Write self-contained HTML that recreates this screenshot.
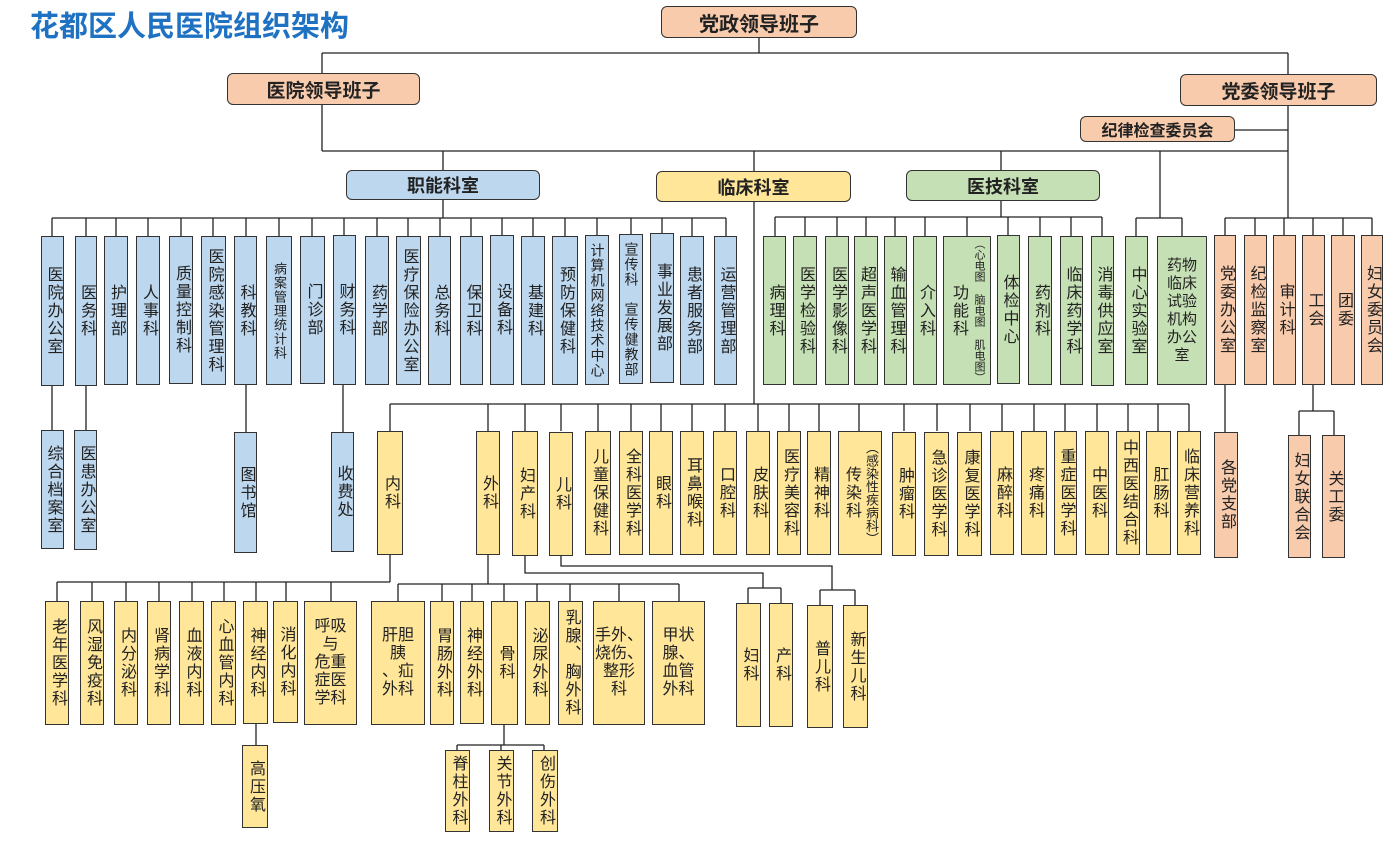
<!DOCTYPE html>
<html><head><meta charset="utf-8">
<style>
body{margin:0;width:1393px;height:852px;background:#fff;position:relative;overflow:hidden;font-family:"Liberation Sans","Noto Sans CJK SC",sans-serif;color:#222}
.t{position:absolute;left:30px;top:3px;font-size:29px;font-weight:bold;color:#1f72c2;letter-spacing:0px}
.h{position:absolute;box-sizing:border-box;border:1.5px solid #333;border-radius:6px;display:flex;align-items:center;justify-content:center;font-weight:bold;font-size:19px}
.b{position:absolute;box-sizing:border-box;border:1.5px solid #333;display:flex;align-items:center;justify-content:center;text-align:center;font-size:16px;line-height:18px}
.v{writing-mode:vertical-rl;text-orientation:upright;letter-spacing:2px;line-height:18px}
.s{font-size:13px;letter-spacing:1px;line-height:14px}
.bl{background:#bdd7ee}.gr{background:#c5e0b4}.ye{background:#ffe699}.or{background:#f8cbad}
svg{position:absolute;left:0;top:0}
</style></head><body>
<svg width="1393" height="852" fill="none" stroke="#222" stroke-width="1.3">
<path d="M759 38V53M322 53H1288M322 53V73M1288 53V74M322 105V151M322 151H1288M1288 106V218M1235 130H1288M443 151V170M754 151V171M1001 151V170M1160 151V218"/>
<path d="M443 200V218M52 218H726M52 218V236M86 218V236M116 218V236M148 218V236M181 218V236M213 218V236M246 218V236M279 218V236M312 218V236M344 218V236M377 218V236M408 218V236M440 218V236M471 218V236M502 218V236M533 218V236M565 218V236M597 218V236M631 218V236M662 218V236M692 218V236M726 218V236"/>
<path d="M1001 201V217M775 217H1102M775 217V236M805 217V236M837 217V236M866 217V236M895 217V236M925 217V236M967 217V236M1008 217V236M1040 217V236M1071 217V236M1102 217V236"/>
<path d="M1136 218H1182M1136 218V236M1182 218V236M1225 218H1372M1225 218V235M1255 218V235M1284 218V235M1313 218V235M1343 218V235M1372 218V235"/>
<path d="M52 385V430M86 385V430M246 385V432M343 385V432M1225 385V432M1313 385V411M1299 411H1334M1299 411V435M1334 411V435"/>
<path d="M754 202V404M390 404H1189M390 404V431M488 404V431M525 404V431M561 404V431M598 404V431M631 404V431M661 404V431M692 404V431M725 404V431M758 404V431M789 404V431M819 404V431M859 404V431M904 404V431M937 404V431M970 404V431M1002 404V431M1034 404V431M1065 404V431M1097 404V431M1128 404V431M1158 404V431M1189 404V431"/>
<path d="M390 555V582M57 582H390M57 582V601M92 582V601M126 582V601M159 582V601M192 582V601M224 582V601M256 582V601M286 582V601M331 582V601M256 724V745"/>
<path d="M488 555V584M398 584H679M398 584V601M442 584V601M472 584V601M504 584V601M537 584V601M570 584V601M619 584V601M679 584V601M504 725V745M457 745H544M457 745V750M501 745V750M544 745V750"/>
<path d="M525 555V573H763V588M748 588H781M748 588V603M781 588V603M561 555V566H832V590M820 590H855M820 590V605M855 590V605"/>
</svg>
<div class="t">花都区人民医院组织架构</div>
<div class="h or" style="left:661px;top:6px;width:196px;height:32px;font-size:20px">党政领导班子</div>
<div class="h or" style="left:227px;top:73px;width:193px;height:32px">医院领导班子</div>
<div class="h or" style="left:1180px;top:74px;width:197px;height:32px">党委领导班子</div>
<div class="h or" style="left:1080px;top:116px;width:155px;height:26px;font-size:16px">纪律检查委员会</div>
<div class="h bl" style="left:346px;top:170px;width:194px;height:30px;font-size:18px">职能科室</div>
<div class="h ye" style="left:656px;top:171px;width:195px;height:31px;font-size:18px">临床科室</div>
<div class="h gr" style="left:906px;top:170px;width:194px;height:31px;font-size:18px">医技科室</div>

<!-- 职能 -->
<div class="b bl" style="left:41px;top:236px;width:23px;height:150px"><span class="v">医院办公室</span></div>
<div class="b bl" style="left:75px;top:236px;width:22px;height:150px"><span class="v">医务科</span></div>
<div class="b bl" style="left:104px;top:236px;width:24px;height:149px"><span class="v">护理部</span></div>
<div class="b bl" style="left:136px;top:236px;width:24px;height:149px"><span class="v">人事科</span></div>
<div class="b bl" style="left:169px;top:236px;width:24px;height:148px"><span class="v">质量控制科</span></div>
<div class="b bl" style="left:201px;top:236px;width:25px;height:149px"><span class="v">医院感染管理科</span></div>
<div class="b bl" style="left:234px;top:236px;width:23px;height:149px"><span class="v">科教科</span></div>
<div class="b bl" style="left:266px;top:236px;width:26px;height:149px"><span class="v s">病案管理统计科</span></div>
<div class="b bl" style="left:300px;top:236px;width:25px;height:148px"><span class="v">门诊部</span></div>
<div class="b bl" style="left:333px;top:235px;width:23px;height:150px"><span class="v">财务科</span></div>
<div class="b bl" style="left:365px;top:236px;width:24px;height:149px"><span class="v">药学部</span></div>
<div class="b bl" style="left:396px;top:236px;width:25px;height:149px"><span class="v">医疗保险办公室</span></div>
<div class="b bl" style="left:428px;top:236px;width:23px;height:149px"><span class="v">总务科</span></div>
<div class="b bl" style="left:460px;top:236px;width:23px;height:149px"><span class="v">保卫科</span></div>
<div class="b bl" style="left:490px;top:235px;width:24px;height:150px"><span class="v">设备科</span></div>
<div class="b bl" style="left:521px;top:236px;width:24px;height:149px"><span class="v">基建科</span></div>
<div class="b bl" style="left:552px;top:236px;width:26px;height:149px"><span class="v">预防保健科</span></div>
<div class="b bl" style="left:585px;top:235px;width:24px;height:150px"><span class="v s" style="font-size:14px;line-height:15px">计算机网络技术中心</span></div>
<div class="b bl" style="left:619px;top:234px;width:24px;height:150px"><span class="v s" style="font-size:14px;line-height:15px">宣传科　宣传健教部</span></div>
<div class="b bl" style="left:650px;top:233px;width:24px;height:150px"><span class="v">事业发展部</span></div>
<div class="b bl" style="left:680px;top:236px;width:24px;height:149px"><span class="v">患者服务部</span></div>
<div class="b bl" style="left:714px;top:236px;width:23px;height:149px"><span class="v">运营管理部</span></div>

<!-- 医技 -->
<div class="b gr" style="left:763px;top:236px;width:23px;height:149px"><span class="v">病理科</span></div>
<div class="b gr" style="left:793px;top:236px;width:24px;height:149px"><span class="v">医学检验科</span></div>
<div class="b gr" style="left:825px;top:236px;width:24px;height:149px"><span class="v">医学影像科</span></div>
<div class="b gr" style="left:854px;top:236px;width:24px;height:149px"><span class="v">超声医学科</span></div>
<div class="b gr" style="left:884px;top:236px;width:23px;height:149px"><span class="v">输血管理科</span></div>
<div class="b gr" style="left:913px;top:236px;width:24px;height:149px"><span class="v">介入科</span></div>
<div class="b gr" style="left:943px;top:236px;width:48px;height:149px;gap:6px;flex-direction:row-reverse"><span class="v" style="font-size:11px;letter-spacing:0;line-height:12px;white-space:nowrap">（心电图 脑电图 肌电图）</span><span class="v">功能科</span></div>
<div class="b gr" style="left:997px;top:235px;width:23px;height:149px"><span class="v">体检中心</span></div>
<div class="b gr" style="left:1028px;top:236px;width:24px;height:149px"><span class="v">药剂科</span></div>
<div class="b gr" style="left:1060px;top:236px;width:23px;height:149px"><span class="v">临床药学科</span></div>
<div class="b gr" style="left:1091px;top:236px;width:23px;height:150px"><span class="v">消毒供应室</span></div>
<div class="b gr" style="left:1125px;top:236px;width:23px;height:149px"><span class="v">中心实验室</span></div>
<div class="b gr" style="left:1157px;top:236px;width:50px;height:149px;font-size:15px">药物<br>临床<br>试验<br>机构<br>办公<br>室</div>

<!-- 党委 -->
<div class="b or" style="left:1214px;top:235px;width:22px;height:150px"><span class="v">党委办公室</span></div>
<div class="b or" style="left:1244px;top:235px;width:23px;height:150px"><span class="v">纪检监察室</span></div>
<div class="b or" style="left:1273px;top:235px;width:23px;height:150px"><span class="v">审计科</span></div>
<div class="b or" style="left:1302px;top:235px;width:23px;height:150px"><span class="v">工会</span></div>
<div class="b or" style="left:1331px;top:235px;width:24px;height:150px"><span class="v">团委</span></div>
<div class="b or" style="left:1361px;top:235px;width:22px;height:150px"><span class="v">妇女委员会</span></div>
<div class="b or" style="left:1214px;top:432px;width:24px;height:126px"><span class="v">各党支部</span></div>
<div class="b or" style="left:1288px;top:435px;width:23px;height:123px"><span class="v">妇女联合会</span></div>
<div class="b or" style="left:1322px;top:435px;width:23px;height:123px"><span class="v">关工委</span></div>

<!-- 职能 sub -->
<div class="b bl" style="left:41px;top:430px;width:23px;height:119px"><span class="v">综合档案室</span></div>
<div class="b bl" style="left:74px;top:430px;width:23px;height:120px"><span class="v">医患办公室</span></div>
<div class="b bl" style="left:234px;top:432px;width:23px;height:121px"><span class="v">图书馆</span></div>
<div class="b bl" style="left:331px;top:432px;width:23px;height:120px"><span class="v">收费处</span></div>

<!-- 临床 -->
<div class="b ye" style="left:377px;top:431px;width:26px;height:124px"><span class="v">内科</span></div>
<div class="b ye" style="left:476px;top:431px;width:24px;height:124px"><span class="v">外科</span></div>
<div class="b ye" style="left:512px;top:431px;width:26px;height:125px"><span class="v">妇产科</span></div>
<div class="b ye" style="left:549px;top:432px;width:24px;height:124px"><span class="v">儿科</span></div>
<div class="b ye" style="left:585px;top:431px;width:26px;height:124px"><span class="v">儿童保健科</span></div>
<div class="b ye" style="left:619px;top:431px;width:24px;height:124px"><span class="v">全科医学科</span></div>
<div class="b ye" style="left:649px;top:431px;width:24px;height:124px"><span class="v">眼科</span></div>
<div class="b ye" style="left:680px;top:431px;width:24px;height:124px"><span class="v">耳鼻喉科</span></div>
<div class="b ye" style="left:713px;top:431px;width:24px;height:124px"><span class="v">口腔科</span></div>
<div class="b ye" style="left:746px;top:431px;width:24px;height:124px"><span class="v">皮肤科</span></div>
<div class="b ye" style="left:777px;top:431px;width:24px;height:124px"><span class="v">医疗美容科</span></div>
<div class="b ye" style="left:807px;top:431px;width:24px;height:124px"><span class="v">精神科</span></div>
<div class="b ye" style="left:838px;top:431px;width:44px;height:124px;gap:4px;flex-direction:row-reverse"><span class="v" style="font-size:13px;letter-spacing:0;line-height:14px;white-space:nowrap">（感染性疾病科）</span><span class="v">传染科</span></div>
<div class="b ye" style="left:892px;top:432px;width:24px;height:124px"><span class="v">肿瘤科</span></div>
<div class="b ye" style="left:924px;top:432px;width:25px;height:124px"><span class="v">急诊医学科</span></div>
<div class="b ye" style="left:957px;top:432px;width:25px;height:124px"><span class="v">康复医学科</span></div>
<div class="b ye" style="left:990px;top:431px;width:24px;height:124px"><span class="v">麻醉科</span></div>
<div class="b ye" style="left:1021px;top:431px;width:26px;height:124px"><span class="v">疼痛科</span></div>
<div class="b ye" style="left:1054px;top:431px;width:23px;height:124px"><span class="v">重症医学科</span></div>
<div class="b ye" style="left:1085px;top:431px;width:24px;height:124px"><span class="v">中医科</span></div>
<div class="b ye" style="left:1116px;top:431px;width:24px;height:124px"><span class="v">中西医结合科</span></div>
<div class="b ye" style="left:1146px;top:431px;width:25px;height:124px"><span class="v">肛肠科</span></div>
<div class="b ye" style="left:1177px;top:431px;width:24px;height:124px"><span class="v">临床营养科</span></div>

<!-- 内科 sub -->
<div class="b ye" style="left:45px;top:601px;width:24px;height:124px"><span class="v">老年医学科</span></div>
<div class="b ye" style="left:80px;top:601px;width:24px;height:124px"><span class="v">风湿免疫科</span></div>
<div class="b ye" style="left:114px;top:601px;width:24px;height:124px"><span class="v">内分泌科</span></div>
<div class="b ye" style="left:147px;top:601px;width:24px;height:124px"><span class="v">肾病学科</span></div>
<div class="b ye" style="left:179px;top:601px;width:25px;height:124px"><span class="v">血液内科</span></div>
<div class="b ye" style="left:211px;top:601px;width:25px;height:124px"><span class="v">心血管内科</span></div>
<div class="b ye" style="left:243px;top:601px;width:25px;height:123px"><span class="v">神经内科</span></div>
<div class="b ye" style="left:273px;top:601px;width:25px;height:122px"><span class="v">消化内科</span></div>
<div class="b ye" style="left:304px;top:601px;width:53px;height:124px">呼吸<br>与<br>危重<br>症医<br>学科</div>
<div class="b ye" style="left:242px;top:745px;width:26px;height:83px"><span class="v">高压氧</span></div>

<!-- 外科 sub -->
<div class="b ye" style="left:371px;top:601px;width:54px;height:124px">肝胆<br>胰<br>、疝<br>外科</div>
<div class="b ye" style="left:430px;top:601px;width:24px;height:124px"><span class="v">胃肠外科</span></div>
<div class="b ye" style="left:460px;top:601px;width:24px;height:123px"><span class="v">神经外科</span></div>
<div class="b ye" style="left:491px;top:601px;width:27px;height:124px"><span class="v">骨科</span></div>
<div class="b ye" style="left:525px;top:601px;width:25px;height:124px"><span class="v">泌尿外科</span></div>
<div class="b ye" style="left:558px;top:601px;width:25px;height:124px"><span class="v">乳腺、胸外科</span></div>
<div class="b ye" style="left:593px;top:601px;width:52px;height:124px">手外、<br>烧伤、<br>整形<br>科</div>
<div class="b ye" style="left:652px;top:601px;width:53px;height:124px">甲状<br>腺、<br>血管<br>外科</div>
<div class="b ye" style="left:445px;top:750px;width:25px;height:82px"><span class="v">脊柱外科</span></div>
<div class="b ye" style="left:489px;top:750px;width:25px;height:82px"><span class="v">关节外科</span></div>
<div class="b ye" style="left:532px;top:750px;width:26px;height:82px"><span class="v">创伤外科</span></div>

<!-- 妇产/儿 sub -->
<div class="b ye" style="left:736px;top:603px;width:25px;height:124px"><span class="v">妇科</span></div>
<div class="b ye" style="left:769px;top:603px;width:24px;height:124px"><span class="v">产科</span></div>
<div class="b ye" style="left:807px;top:605px;width:26px;height:123px"><span class="v">普儿科</span></div>
<div class="b ye" style="left:843px;top:605px;width:25px;height:123px"><span class="v">新生儿科</span></div>
</body></html>
